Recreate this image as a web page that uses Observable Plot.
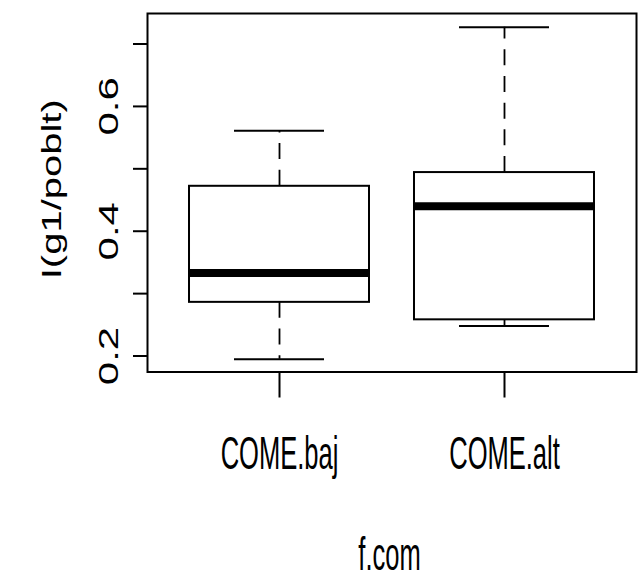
<!DOCTYPE html>
<html>
<head>
<meta charset="utf-8">
<script src="https://cdn.jsdelivr.net/npm/d3@7"></script>
<script src="https://cdn.jsdelivr.net/npm/@observablehq/plot@0.6"></script>
<style>
  html, body { margin: 0; padding: 0; background: white; }
  #chart svg { display: block; }
</style>
</head>
<body>
<div id="chart"></div>
<script>
// ---- data ----
const categories   = ["COME.baj", "COME.alt"];
const lowerWhisker = [0.195, 0.248];
const lowerHinge   = [0.286, 0.258];
const medians      = [0.333, 0.440];
const upperHinge   = [0.472, 0.494];
const upperWhisker = [0.561, 0.727];
const yTicks       = [0.2, 0.3, 0.4, 0.5, 0.6, 0.7];
const yTickLabels  = ["0.2", "0.4", "0.6"];
const xTitle = "f.com";
const yTitle = "I(g1/poblt)";

const rows = categories.map((cat, i) => ({
  cat, pos: i + 1,
  lo: lowerWhisker[i], q1: lowerHinge[i], med: medians[i],
  q3: upperHinge[i], hi: upperWhisker[i]
}));

const boxHalf = 0.4, capHalf = 0.2;
const font = "'Liberation Sans', Arial, Helvetica, sans-serif";

const chart = Plot.plot({
  width: 639,
  height: 581,
  marginLeft: 147,
  marginRight: 3,
  marginTop: 13,
  marginBottom: 209.5,
  x: {type: "linear", domain: [0.4133, 2.5867], axis: null},
  y: {domain: [0.1744, 0.7489], axis: null},
  style: {background: "white", color: "black", fontFamily: font},
  marks: [
    // whiskers (dashed), drawn from the hinge outward
    Plot.ruleX(rows, {x: "pos", y1: "q3", y2: "hi", stroke: "black", strokeWidth: 1.8, strokeDasharray: "16,10.7"}),
    Plot.ruleX(rows, {x: "pos", y1: "q1", y2: "lo", stroke: "black", strokeWidth: 1.8, strokeDasharray: "16,10.7"}),
    // staples
    Plot.ruleY(rows, {y: "hi", x1: d => d.pos - capHalf, x2: d => d.pos + capHalf, stroke: "black", strokeWidth: 2}),
    Plot.ruleY(rows, {y: "lo", x1: d => d.pos - capHalf, x2: d => d.pos + capHalf, stroke: "black", strokeWidth: 2}),
    // boxes
    Plot.rect(rows, {x1: d => d.pos - boxHalf, x2: d => d.pos + boxHalf, y1: "q1", y2: "q3", fill: "white", stroke: "black", strokeWidth: 2}),
    // medians
    Plot.ruleY(rows, {y: "med", x1: d => d.pos - boxHalf, x2: d => d.pos + boxHalf, stroke: "black", strokeWidth: 8}),
    // frame
    Plot.frame({stroke: "black", strokeWidth: 2}),
    // axis ticks
    Plot.axisY({ticks: yTicks, tickSize: 14, tickFormat: () => "", label: null, strokeWidth: 2, anchor: "left"}),
    Plot.axisX({ticks: [1, 2], tickSize: 26, tickFormat: () => "", label: null, strokeWidth: 2, anchor: "bottom"}),
    // [text 0] y tick labels (rotated)
    Plot.text(yTickLabels, {y: d => +d, text: d => d, frameAnchor: "left", dx: -30, rotate: -90,
      textAnchor: "middle", lineAnchor: "bottom", fontSize: 42, fill: "black"}),
    // [text 1] x tick labels
    Plot.text(rows, {x: "pos", text: "cat", frameAnchor: "bottom", dy: 96.5,
      textAnchor: "middle", lineAnchor: "bottom", fontSize: 46, fill: "black"}),
    // [text 2] y title
    Plot.text([yTitle], {text: d => d, frameAnchor: "left", dx: -87, dy: -3.5, rotate: -90,
      textAnchor: "middle", lineAnchor: "bottom", fontSize: 40, fill: "black"}),
    // [text 3] x title
    Plot.text([xTitle], {text: d => d, frameAnchor: "bottom", dx: -2.5, dy: 197.5,
      textAnchor: "middle", lineAnchor: "bottom", fontSize: 46, fill: "black"})
  ]
});

// squash text horizontally (screen x) about its anchor point
function squashGroup(g, s) {
  if (!g) return;
  g.querySelectorAll("text").forEach(t => {
    const tr = t.getAttribute("transform");
    if (tr && /^\s*translate\([^)]*\)/.test(tr)) {
      t.setAttribute("transform", tr.replace(/^\s*(translate\([^)]*\))/, `$1 scale(${s},1)`));
    } else {
      const x = parseFloat(t.getAttribute("x") || 0), y = parseFloat(t.getAttribute("y") || 0);
      t.setAttribute("transform", `translate(${x},${y}) scale(${s},1) translate(${-x},${-y}) ${tr || ""}`);
    }
  });
}
const textGroups = Array.from(chart.querySelectorAll('g[aria-label="text"]'));
const squashFactors = [0.65, 0.555, 0.70, 0.555];
textGroups.forEach((g, i) => squashGroup(g, squashFactors[i]));

document.getElementById("chart").appendChild(chart);
</script>
</body>
</html>
